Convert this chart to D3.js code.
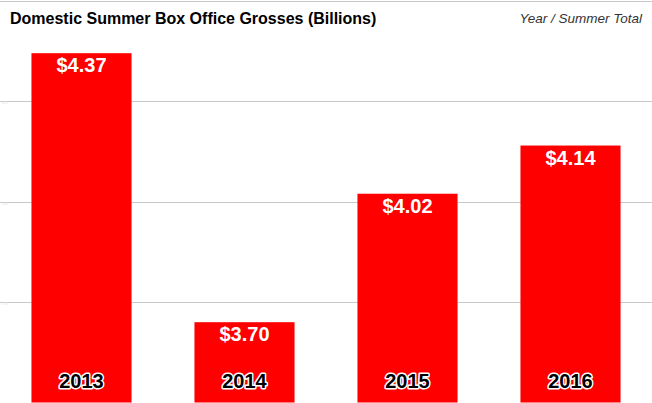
<!DOCTYPE html>
<html lang="en">
<head>
<meta charset="utf-8">
<title>Domestic Summer Box Office Grosses</title>
<script src="https://d3js.org/d3.v7.min.js"></script>
<style>
  body { margin: 0; background: #fff; }
  svg { display: block; font-family: "Liberation Sans", Arial, sans-serif; }
</style>
</head>
<body>
<div id="chart"></div>
<script>
// Data
const years = ["2013", "2014", "2015", "2016"];
const grosses = [4.37, 3.70, 4.02, 4.14];
const yTicks = [3.5, 3.75, 4.0, 4.25, 4.5];

const width = 652;
const height = 403;

const svg = d3.select("#chart")
  .append("svg")
  .attr("width", width)
  .attr("height", height);

// Scales
const x = d3.scaleBand()
  .domain(years)
  .range([0, width])
  .paddingInner(0.386)
  .paddingOuter(0.193);

const y = d3.scaleLinear()
  .domain([3.5, 4.5])
  .range([402.5, 1]);

// Gridlines
svg.selectAll("line.grid")
  .data(yTicks)
  .enter()
  .append("line")
  .attr("class", "grid")
  .attr("x1", 0)
  .attr("x2", width)
  .attr("y1", d => Math.round(y(d)) + 0.5)
  .attr("y2", d => Math.round(y(d)) + 0.5)
  .attr("stroke", "#c8c8c8")
  .attr("stroke-width", 1);

// Tiny faded tick labels at the left edge
svg.selectAll("text.tick")
  .data(yTicks.slice(1, 4))
  .enter()
  .append("text")
  .attr("class", "tick")
  .attr("x", 2)
  .attr("y", d => y(d) + 3)
  .attr("fill", "#e0e0e0")
  .style("font-size", "3px")
  .text(d => d.toFixed(2));

// Bars
svg.selectAll("rect.bar")
  .data(grosses)
  .enter()
  .append("rect")
  .attr("class", "bar")
  .attr("x", (d, i) => x(years[i]))
  .attr("y", d => y(d))
  .attr("width", x.bandwidth())
  .attr("height", d => y(3.5) - y(d))
  .attr("fill", "#ff0000");

// Value labels
svg.selectAll("text.value")
  .data(grosses)
  .enter()
  .append("text")
  .attr("class", "value")
  .attr("x", (d, i) => x(years[i]) + x.bandwidth() / 2)
  .attr("y", d => y(d) + 19)
  .attr("text-anchor", "middle")
  .attr("fill", "#ffffff")
  .attr("font-weight", "bold")
  .style("font-size", "20px")
  .text(d => `$${d.toFixed(2)}`);

// Year labels
svg.selectAll("text.year")
  .data(years)
  .enter()
  .append("text")
  .attr("class", "year")
  .attr("x", d => x(d) + x.bandwidth() / 2)
  .attr("y", 388)
  .attr("text-anchor", "middle")
  .attr("fill", "#000000")
  .attr("stroke", "#ffffff")
  .attr("stroke-width", 3)
  .attr("stroke-linejoin", "round")
  .attr("paint-order", "stroke")
  .attr("font-weight", "bold")
  .style("font-size", "20px")
  .text(d => d);

// Title and subtitle
svg.append("text")
  .attr("x", 10)
  .attr("y", 24)
  .attr("fill", "#000000")
  .attr("font-weight", "bold")
  .style("font-size", "16px")
  .text("Domestic Summer Box Office Grosses (Billions)");

svg.append("text")
  .attr("x", 642)
  .attr("y", 23)
  .attr("text-anchor", "end")
  .attr("fill", "#333333")
  .attr("font-style", "italic")
  .style("font-size", "13.5px")
  .text("Year / Summer Total");
</script>
</body>
</html>
